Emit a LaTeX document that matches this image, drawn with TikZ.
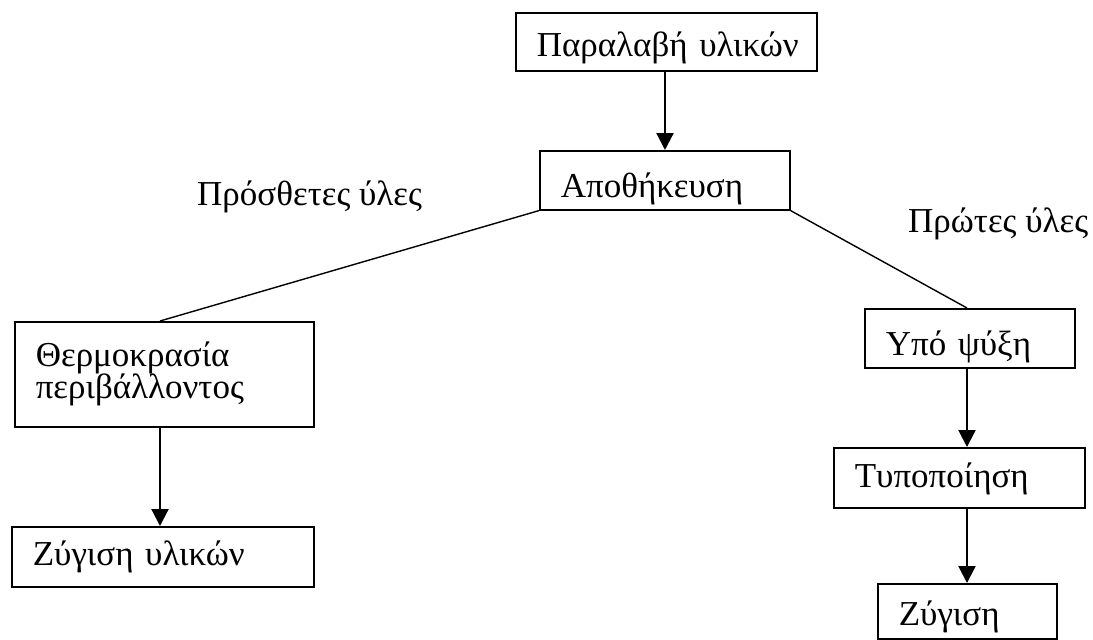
\documentclass[tikz,border=0pt]{standalone}
\usepackage{fontspec}
\setmainfont{Liberation Serif}
\usetikzlibrary{arrows.meta}
\begin{document}
\begin{tikzpicture}[x=1pt,y=-1pt,
  every node/.style={font=\fontsize{35}{35}\selectfont},
  box/.style={draw, line width=1.6pt, rectangle, anchor=north west,
    inner xsep=21pt, inner ysep=0pt, align=left},
  flow/.style={line width=2.2pt, -{Triangle[width=17pt,length=17pt]}},
  link/.style={line width=1.4pt},
  lbl/.style={anchor=base west, inner sep=0pt}]
\useasboundingbox (0,0) rectangle (1093,640);
% main column
\node[box, text width=259pt, text height=44pt, text depth=14pt] (recv) at (515,12)
  {Παραλαβή~υλικών};
\node[box, text width=208pt, text height=47pt, text depth=12pt] (store) at (539,150)
  {Αποθήκευση};
% left branch
\node[box, text width=257pt, minimum height=105pt] (amb) at (14,321)
  {Θερμοκρασία\\[-3pt]περιβάλλοντος};
\node[box, text width=260pt, text height=39pt, text depth=21pt] (wmat) at (11,526)
  {Ζύγιση~υλικών};
% right branch
\node[box, text width=168pt, text height=47pt, text depth=12pt] (cold) at (864,308)
  {Υπό~ψύξη};
\node[box, text width=209pt, text height=40pt, text depth=20pt] (std) at (833,447)
  {Τυποποίηση};
\node[box, text width=137pt, text height=42pt, text depth=13pt] (weigh) at (877,583)
  {Ζύγιση};
% branch labels
\node[lbl] (addl) at (197,205) {Πρόσθετες ύλες};
\node[lbl] (raw) at (908,232) {Πρώτες ύλες};
% connectors
\draw[flow] (recv.south -| 665,0) -- (store.north -| 665,0);
\draw[link] (store.south west) -- (amb.north -| 160,0);
\draw[link] (store.south east) -- (cold.north -| 967,0);
\draw[flow] (amb.south -| 160,0) -- (wmat.north -| 160,0);
\draw[flow] (cold.south -| 967,0) -- (std.north -| 967,0);
\draw[flow] (std.south -| 967,0) -- (weigh.north -| 967,0);
\end{tikzpicture}
\end{document}
